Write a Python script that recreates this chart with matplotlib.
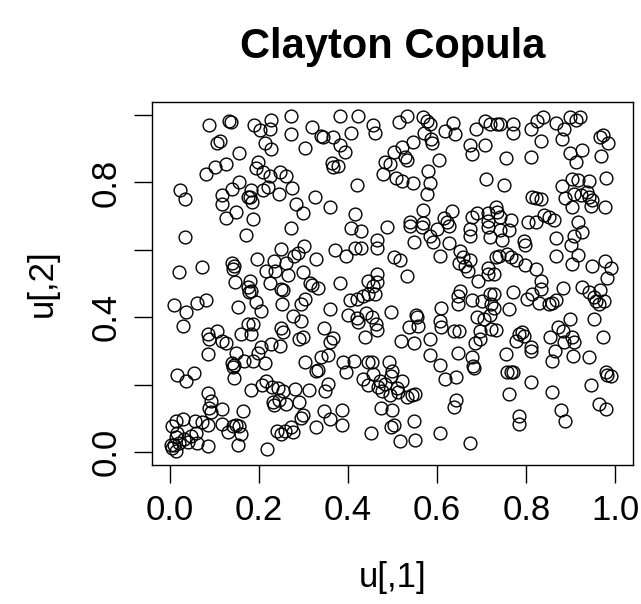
import matplotlib
matplotlib.use("Agg")
import matplotlib.pyplot as plt

plt.rcParams['font.family'] = ['Liberation Sans', 'DejaVu Sans']

# sample from the copula
u1 = [
    # top-left
    0.088, 0.133, 0.138, 0.105, 0.113, 0.156, 0.126, 0.102, 0.081, 0.023, 0.034, 0.156, 0.139, 0.118, 0.117, 0.148, 0.126, 0.175,
    # top, second column
    0.190, 0.202, 0.228, 0.226, 0.273, 0.271, 0.213, 0.228, 0.319, 0.339, 0.344, 0.366, 0.381, 0.422, 0.407, 0.304, 0.381, 0.393,
    0.363, 0.366, 0.378, 0.198, 0.194, 0.209, 0.224, 0.247, 0.261, 0.419, 0.183, 0.209, 0.220, 0.244, 0.275, 0.179, 0.184, 0.284,
    0.299, 0.325, 0.360, 0.415, 0.187,
    # top, third column
    0.457, 0.461, 0.515, 0.532, 0.569, 0.577, 0.583, 0.571, 0.587, 0.588, 0.545, 0.521, 0.502, 0.528, 0.532, 0.483, 0.494, 0.479,
    0.508, 0.521, 0.545, 0.603, 0.580, 0.584, 0.578, 0.635, 0.618, 0.640, 0.688, 0.708, 0.719, 0.674, 0.708, 0.678, 0.710, 0.569,
    0.633, 0.616, 0.678, 0.689, 0.715, 0.539, 0.568, 0.623, 0.713,
    # top-right
    0.735, 0.742, 0.769, 0.770, 0.810, 0.825, 0.838, 0.866, 0.885, 0.897, 0.911, 0.920, 0.834, 0.881, 0.965, 0.971, 0.984, 0.754,
    0.810, 0.897, 0.926, 0.911, 0.967, 0.750, 0.879, 0.903, 0.915, 0.941, 0.978, 0.887, 0.907, 0.922, 0.937, 0.941, 0.948, 0.903,
    0.945, 0.977, 0.813, 0.821, 0.832, 0.731, 0.735, 0.742, 0.765, 0.804, 0.821, 0.840, 0.851, 0.862, 0.917,
    # middle-left
    0.034, 0.171, 0.020, 0.072, 0.139, 0.145, 0.141, 0.147, 0.175, 0.178, 0.010, 0.036, 0.062, 0.082, 0.029, 0.154, 0.107, 0.085,
    0.087, 0.118, 0.126, 0.160, 0.175,
    # middle, second column
    0.273, 0.407, 0.428, 0.250, 0.301, 0.288, 0.279, 0.329, 0.370, 0.396, 0.415, 0.430, 0.196, 0.235, 0.261, 0.216, 0.237, 0.265,
    0.299, 0.179, 0.183, 0.224, 0.249, 0.254, 0.314, 0.319, 0.333, 0.381, 0.445, 0.194, 0.205, 0.252, 0.295, 0.303, 0.359, 0.404,
    0.419, 0.434, 0.445, 0.400, 0.419, 0.422, 0.441, 0.276, 0.294, 0.187, 0.183, 0.250, 0.254, 0.346, 0.366, 0.359, 0.438, 0.291,
    0.299, 0.205, 0.228, 0.247,
    # middle, third column
    0.487, 0.539, 0.566, 0.599, 0.626, 0.673, 0.715, 0.464, 0.466, 0.547, 0.583, 0.590, 0.626, 0.673, 0.718, 0.503, 0.517, 0.607,
    0.652, 0.658, 0.650, 0.663, 0.670, 0.674, 0.715, 0.713, 0.691, 0.466, 0.464, 0.456, 0.461, 0.532, 0.652, 0.646, 0.646, 0.678,
    0.700, 0.719, 0.721, 0.609, 0.496, 0.553, 0.554, 0.536, 0.558, 0.607, 0.609, 0.453, 0.463, 0.464, 0.637, 0.648, 0.689, 0.704,
    0.719, 0.721, 0.697, 0.697, 0.518, 0.547, 0.584, 0.685,
    # middle-right
    0.742, 0.761, 0.746, 0.795, 0.798, 0.866, 0.907, 0.926, 0.900, 0.917, 0.867, 0.902, 0.739, 0.757, 0.765, 0.776, 0.731, 0.798,
    0.821, 0.727, 0.832, 0.947, 0.977, 0.990, 0.982, 0.769, 0.802, 0.813, 0.829, 0.834, 0.851, 0.857, 0.866, 0.882, 0.924, 0.941,
    0.952, 0.962, 0.965, 0.975, 0.957, 0.727, 0.727, 0.760, 0.731, 0.897, 0.870, 0.882, 0.903, 0.907, 0.853, 0.784, 0.791, 0.795,
    0.776, 0.952, 0.971, 0.810, 0.885,
    # bottom-left
    0.085, 0.148, 0.139, 0.145, 0.141, 0.167, 0.145, 0.017, 0.036, 0.055, 0.085, 0.092, 0.088, 0.092, 0.118, 0.165, 0.013, 0.029,
    0.006, 0.057, 0.073, 0.085, 0.118, 0.130, 0.141, 0.148, 0.156, 0.160, 0.154, 0.017, 0.013, 0.032, 0.047, 0.058, 0.062, 0.085,
    0.002, 0.006, 0.013, 0.010, 0.040, 0.021,
    # bottom, second column
    0.187, 0.198, 0.213, 0.303, 0.329, 0.333, 0.339, 0.355, 0.389, 0.413, 0.396, 0.445, 0.434, 0.445, 0.183, 0.207, 0.216, 0.229,
    0.243, 0.254, 0.280, 0.312, 0.349, 0.354, 0.231, 0.235, 0.244, 0.261, 0.289, 0.299, 0.295, 0.346, 0.359, 0.387, 0.387, 0.329,
    0.241, 0.250, 0.259, 0.271, 0.276, 0.219, 0.452,
    # bottom, third column
    0.453, 0.491, 0.457, 0.498, 0.496, 0.521, 0.472, 0.483, 0.468, 0.476, 0.494, 0.509, 0.513, 0.532, 0.543, 0.551, 0.473, 0.498,
    0.547, 0.496, 0.503, 0.517, 0.551, 0.583, 0.607, 0.618, 0.643, 0.646, 0.678, 0.681, 0.682, 0.643, 0.638, 0.607, 0.673,
    # bottom-right
    0.755, 0.810, 0.864, 0.857, 0.905, 0.941, 0.757, 0.765, 0.770, 0.810, 0.760, 0.858, 0.784, 0.784, 0.877, 0.887, 0.945, 0.978,
    0.982, 0.990, 0.963, 0.978,
]

u2 = [
    # top-left
    0.970, 0.982, 0.979, 0.916, 0.924, 0.888, 0.855, 0.845, 0.825, 0.777, 0.751, 0.802, 0.780, 0.763, 0.736, 0.713, 0.696, 0.756,
    # top, second column
    0.970, 0.955, 0.985, 0.960, 0.998, 0.944, 0.918, 0.898, 0.965, 0.938, 0.934, 0.936, 0.998, 0.998, 0.948, 0.901, 0.911, 0.891,
    0.857, 0.847, 0.849, 0.861, 0.842, 0.832, 0.819, 0.832, 0.819, 0.792, 0.777, 0.777, 0.787, 0.766, 0.785, 0.758, 0.743, 0.736,
    0.710, 0.756, 0.728, 0.706, 0.693,
    # top, third column
    0.970, 0.946, 0.980, 0.997, 0.993, 0.983, 0.975, 0.946, 0.928, 0.916, 0.921, 0.904, 0.891, 0.876, 0.866, 0.861, 0.855, 0.825,
    0.812, 0.805, 0.799, 0.866, 0.835, 0.797, 0.766, 0.977, 0.953, 0.944, 0.958, 0.983, 0.975, 0.911, 0.911, 0.884, 0.809, 0.718,
    0.715, 0.696, 0.698, 0.708, 0.708, 0.684, 0.681, 0.684, 0.687,
    # top-right
    0.975, 0.975, 0.975, 0.946, 0.958, 0.983, 0.993, 0.977, 0.958, 0.993, 0.985, 0.993, 0.924, 0.928, 0.936, 0.941, 0.918, 0.872,
    0.876, 0.888, 0.896, 0.861, 0.878, 0.792, 0.789, 0.809, 0.807, 0.805, 0.812, 0.753, 0.766, 0.763, 0.772, 0.758, 0.748, 0.726,
    0.730, 0.728, 0.756, 0.753, 0.750, 0.726, 0.713, 0.698, 0.688, 0.684, 0.684, 0.703, 0.698, 0.688, 0.684,
    # middle-left
    0.639, 0.645, 0.533, 0.548, 0.560, 0.553, 0.543, 0.504, 0.489, 0.474, 0.437, 0.415, 0.441, 0.451, 0.375, 0.431, 0.358, 0.350,
    0.335, 0.330, 0.323, 0.350, 0.380,
    # middle, second column
    0.665, 0.665, 0.657, 0.602, 0.612, 0.590, 0.583, 0.573, 0.599, 0.583, 0.605, 0.607, 0.573, 0.566, 0.560, 0.538, 0.536, 0.526,
    0.533, 0.508, 0.479, 0.501, 0.484, 0.481, 0.501, 0.496, 0.487, 0.501, 0.507, 0.444, 0.418, 0.439, 0.439, 0.454, 0.424, 0.451,
    0.454, 0.464, 0.469, 0.407, 0.398, 0.385, 0.412, 0.404, 0.390, 0.380, 0.350, 0.368, 0.355, 0.368, 0.338, 0.326, 0.340, 0.335,
    0.340, 0.311, 0.320, 0.315,
    # middle, third column
    0.669, 0.672, 0.669, 0.662, 0.672, 0.662, 0.669, 0.629, 0.607, 0.622, 0.642, 0.622, 0.619, 0.642, 0.639, 0.578, 0.570, 0.581,
    0.597, 0.578, 0.560, 0.553, 0.538, 0.570, 0.546, 0.528, 0.508, 0.528, 0.504, 0.494, 0.469, 0.523, 0.479, 0.464, 0.439, 0.451,
    0.447, 0.469, 0.439, 0.427, 0.415, 0.407, 0.401, 0.372, 0.375, 0.390, 0.370, 0.400, 0.380, 0.362, 0.358, 0.358, 0.400, 0.395,
    0.407, 0.365, 0.360, 0.335, 0.330, 0.323, 0.335, 0.323,
    # middle-right
    0.659, 0.659, 0.629, 0.627, 0.615, 0.635, 0.642, 0.652, 0.615, 0.585, 0.583, 0.558, 0.583, 0.588, 0.578, 0.570, 0.578, 0.556,
    0.543, 0.528, 0.508, 0.553, 0.568, 0.546, 0.518, 0.474, 0.454, 0.469, 0.441, 0.484, 0.439, 0.441, 0.451, 0.487, 0.489, 0.474,
    0.461, 0.439, 0.481, 0.449, 0.447, 0.469, 0.429, 0.424, 0.362, 0.395, 0.370, 0.358, 0.340, 0.326, 0.340, 0.350, 0.355, 0.345,
    0.330, 0.395, 0.342, 0.311, 0.326,
    # bottom-left
    0.291, 0.294, 0.264, 0.257, 0.251, 0.269, 0.220, 0.229, 0.212, 0.234, 0.175, 0.152, 0.131, 0.119, 0.128, 0.121, 0.093, 0.099,
    0.076, 0.093, 0.089, 0.081, 0.083, 0.061, 0.076, 0.079, 0.076, 0.053, 0.020, 0.056, 0.044, 0.040, 0.049, 0.056, 0.027, 0.019,
    0.020, 0.012, 0.004, 0.022, 0.030, 0.027,
    # bottom, second column
    0.271, 0.294, 0.264, 0.267, 0.241, 0.244, 0.281, 0.287, 0.267, 0.271, 0.239, 0.267, 0.218, 0.200, 0.185, 0.200, 0.210, 0.192,
    0.190, 0.180, 0.188, 0.185, 0.182, 0.202, 0.148, 0.140, 0.155, 0.142, 0.148, 0.111, 0.101, 0.122, 0.099, 0.125, 0.079, 0.073,
    0.063, 0.053, 0.063, 0.073, 0.061, 0.010, 0.056,
    # bottom, third column
    0.267, 0.267, 0.231, 0.241, 0.225, 0.210, 0.212, 0.202, 0.192, 0.180, 0.170, 0.190, 0.178, 0.162, 0.170, 0.172, 0.131, 0.125,
    0.093, 0.073, 0.079, 0.034, 0.037, 0.287, 0.257, 0.218, 0.222, 0.294, 0.281, 0.254, 0.249, 0.155, 0.133, 0.056, 0.027,
    # bottom-right
    0.291, 0.301, 0.299, 0.271, 0.284, 0.281, 0.239, 0.239, 0.239, 0.208, 0.172, 0.178, 0.106, 0.083, 0.125, 0.093, 0.198, 0.239,
    0.229, 0.225, 0.142, 0.128,
]

assert len(u1) == len(u2), (len(u1), len(u2))

ticks = [0.0, 0.2, 0.4, 0.6, 0.8, 1.0]
xticklabels = ['0.0', '0.2', '0.4', '0.6', '0.8', '1.0']
yticklabels = ['0.0', '', '0.4', '', '0.8', '']

fig = plt.figure(figsize=(6.41, 6.04), dpi=100)
ax = fig.add_axes([0.237, 0.230, 0.751, 0.601])

ax.plot(u1, u2, linestyle='none', marker='o', markersize=9.2,
        markerfacecolor='none', markeredgecolor='black', markeredgewidth=1.0)

ax.set_xlim(-0.04, 1.04)
ax.set_ylim(-0.0386, 1.0386)
ax.set_xticks(ticks)
ax.set_xticklabels(xticklabels)
ax.set_yticks(ticks)
ax.set_yticklabels(yticklabels, rotation=90, va='center')
ax.tick_params(length=13, width=1.0, labelsize=25, pad=8)
for s in ax.spines.values():
    s.set_linewidth(1.0)

ax.set_title('Clayton Copula', fontsize=30, fontweight='bold', pad=32)
ax.set_xlabel('u[,1]', fontsize=25, labelpad=24)
ax.set_ylabel('u[,2]', fontsize=25, labelpad=22)

fig.savefig('out.png', dpi=100)
